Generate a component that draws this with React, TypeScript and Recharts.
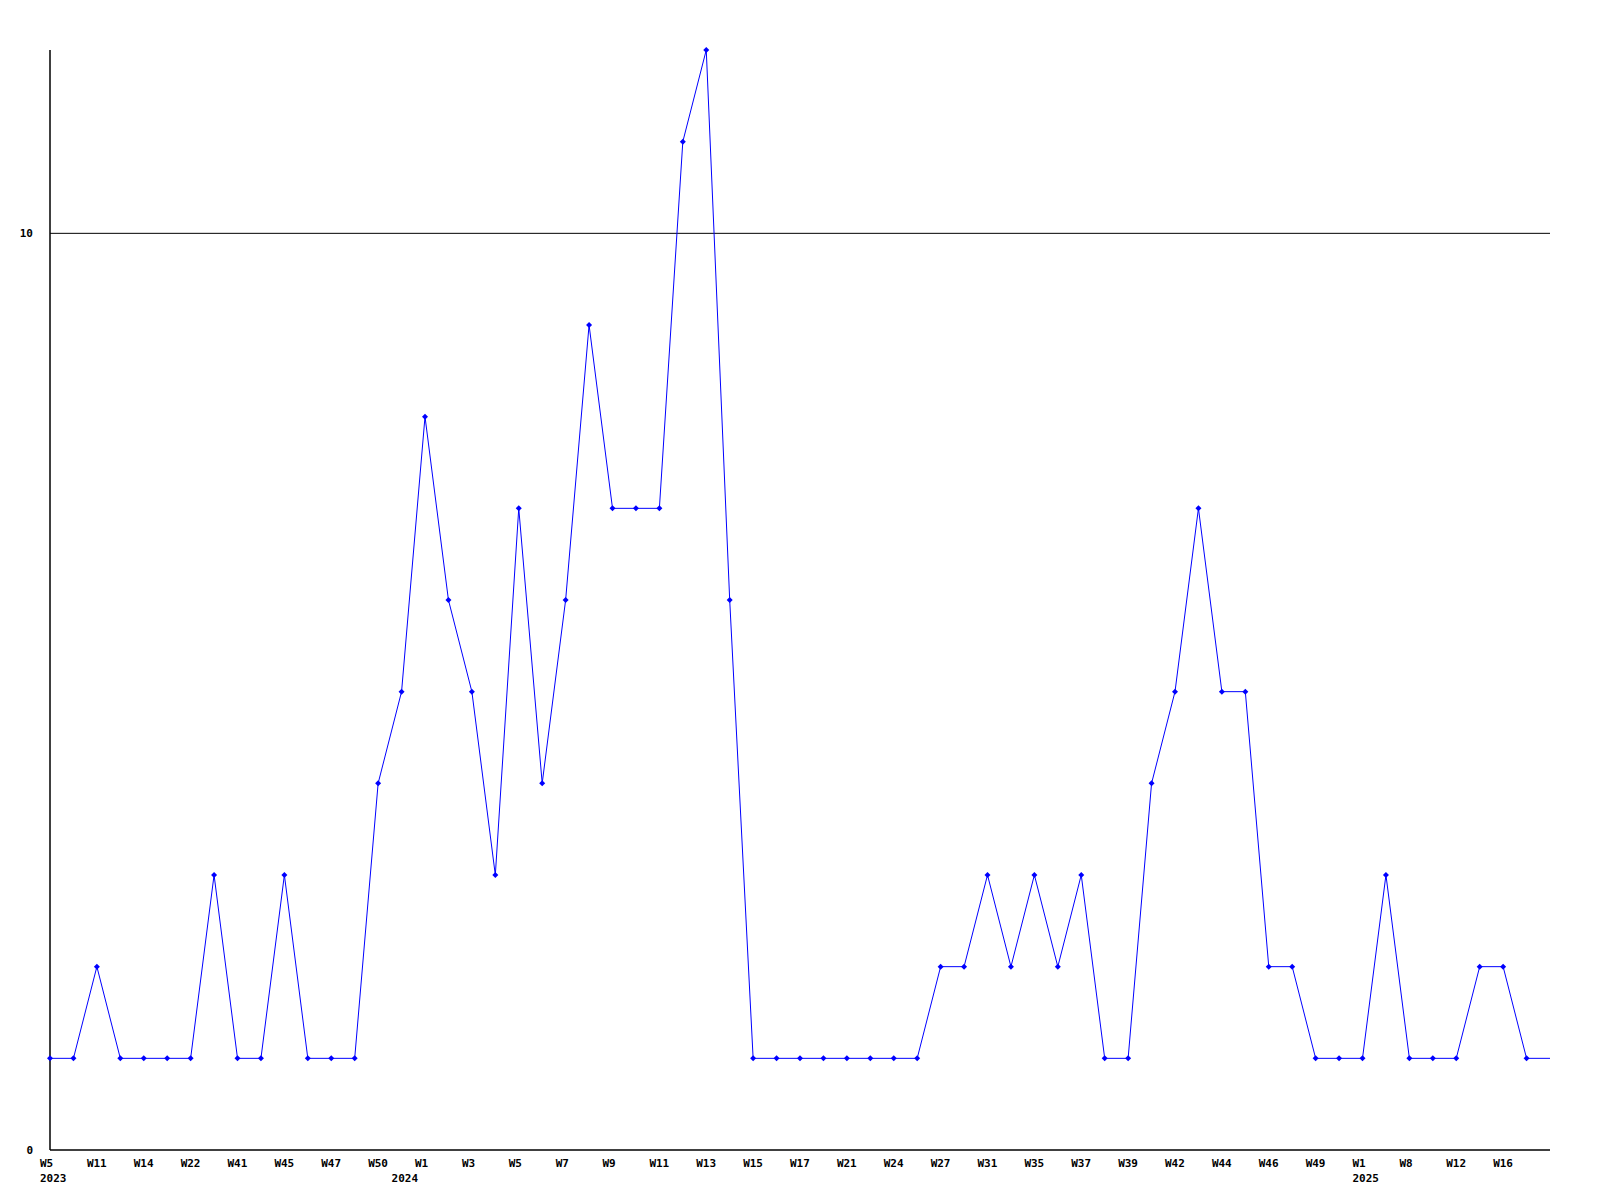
import React from 'react';
import { LineChart, Line, XAxis, YAxis, CartesianGrid } from 'recharts';

// week labels (every other one is printed on the axis)
const weeks = [
  'W5', 'W9', 'W11', 'W12', 'W14', 'W18', 'W22', 'W38', 'W41', 'W43',
  'W45', 'W46', 'W47', 'W48', 'W50', 'W52', 'W1', 'W2', 'W3', 'W4',
  'W5', 'W6', 'W7', 'W8', 'W9', 'W10', 'W11', 'W12', 'W13', 'W14',
  'W15', 'W16', 'W17', 'W19', 'W21', 'W23', 'W24', 'W26', 'W27', 'W29',
  'W31', 'W33', 'W35', 'W36', 'W37', 'W38', 'W39', 'W41', 'W42', 'W43',
  'W44', 'W45', 'W46', 'W47', 'W49', 'W51', 'W1', 'W5', 'W8', 'W10',
  'W12', 'W14', 'W16', 'W17', 'W18',
];

const counts = [
  1, 1, 2, 1, 1, 1, 1, 3, 1, 1,
  3, 1, 1, 1, 4, 5, 8, 6, 5, 3,
  7, 4, 6, 9, 7, 7, 7, 11, 12, 6,
  1, 1, 1, 1, 1, 1, 1, 1, 2, 2,
  3, 2, 3, 2, 3, 1, 1, 4, 5, 7,
  5, 5, 2, 2, 1, 1, 1, 3, 1, 1,
  1, 2, 2, 1, 1,
];

// year markers, keyed by position in the week list
const yearIndexes = [0, 15, 56];
const yearLabels = ['2023', '2024', '2025'];

const yTicks = [0, 10];

const data = weeks.map((week, i) => ({ week, count: counts[i] }));

const FONT = '"DejaVu Sans Mono", monospace';
const last = weeks.length - 1;

function WeekTick(props: any) {
  const { x, y, index } = props;
  const yi = yearIndexes.indexOf(index);
  return (
    <g>
      {index % 2 === 0 && index !== last && (
        <text x={x - 10} y={y + 5} fontFamily={FONT} fontWeight='bold' fontSize={11} fill='#000' textAnchor='start' dominantBaseline='central'>
          {weeks[index]}
        </text>
      )}
      {yi >= 0 && (
        <text x={x - 10} y={y + 20} fontFamily={FONT} fontWeight='bold' fontSize={11} fill='#000' textAnchor='start' dominantBaseline='central'>
          {yearLabels[yi]}
        </text>
      )}
    </g>
  );
}

function CountTick(props: any) {
  const { x, y, payload } = props;
  return (
    <text x={x - 9} y={y} fontFamily={FONT} fontWeight='bold' fontSize={11} fill='#000' textAnchor='end' dominantBaseline='central'>
      {payload.value}
    </text>
  );
}

function Marker(props: any) {
  const { cx, cy, index } = props;
  if (index === last) return <g key={index} />;
  return (
    <path
      key={index}
      d={`M${cx},${cy - 3}L${cx + 3},${cy}L${cx},${cy + 3}L${cx - 3},${cy}Z`}
      fill='#0000ff'
    />
  );
}

export default function App() {
  return (
    <div style={{ position: 'absolute', left: 0, top: 0, background: '#fff' }}>
      <LineChart width={1600} height={1200} data={data} margin={{ top: 50, right: 50, bottom: 0, left: 0 }}>
        <CartesianGrid horizontal vertical={false} stroke='#000' strokeWidth={1} horizontalValues={[10]} />
        <XAxis
          dataKey='week'
          interval={0}
          tick={<WeekTick />}
          tickLine={false}
          height={50}
          axisLine={{ stroke: '#000', strokeWidth: 1.5 }}
        />
        <YAxis
          domain={[0, 12]}
          ticks={yTicks}
          tick={<CountTick />}
          tickLine={false}
          width={50}
          axisLine={{ stroke: '#000', strokeWidth: 1.5 }}
        />
        <Line
          type='linear'
          dataKey='count'
          stroke='#0000ff'
          strokeWidth={1}
          dot={<Marker />}
          activeDot={false}
          isAnimationActive={false}
        />
      </LineChart>
    </div>
  );
}
